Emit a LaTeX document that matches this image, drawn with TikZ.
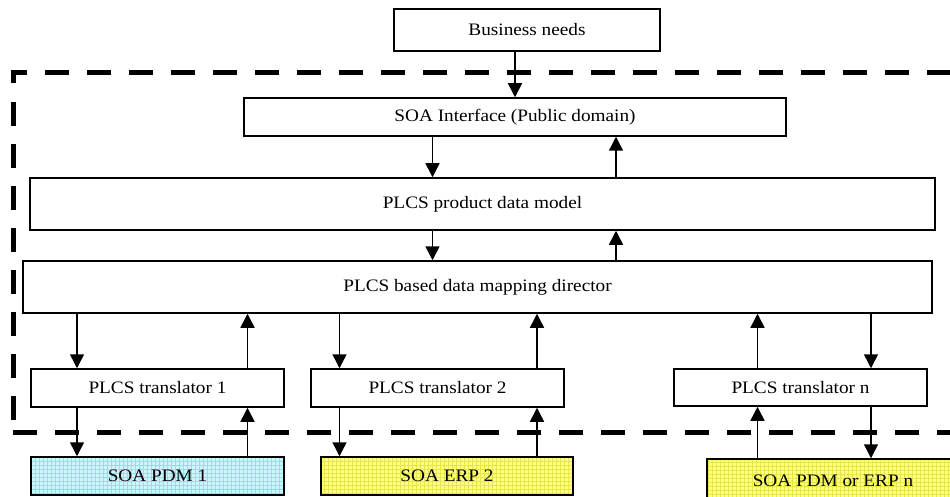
\documentclass[tikz,border=0pt]{standalone}
\usepackage{fontspec}
\setmainfont{Liberation Serif}[FakeStretch=1.1]
\usetikzlibrary{arrows.meta}
\definecolor{cyanfill}{RGB}{200,250,250}
\definecolor{cyangrid}{RGB}{120,235,240}
\definecolor{yelfill}{RGB}{255,255,130}
\definecolor{yelgrid}{RGB}{230,230,70}
\tikzset{
  box/.style={draw, line width=1.5pt, fill=white, inner sep=0pt, anchor=center,
    font=\fontsize{17.5}{20}\selectfont},
  gridfill/.style 2 args={fill=#1, path picture={
    \draw[step=4pt, color=#2, line width=0.6pt]
      (path picture bounding box.south west) grid (path picture bounding box.north east);}},
  arr/.style={-{Triangle[length=14pt,width=14pt]}, line width=1.5pt},
  frame/.style={line width=5pt, dash pattern=on 24pt off 18pt},
}
\begin{document}
\begin{tikzpicture}[x=1pt,y=-1pt]
\useasboundingbox (0,0) rectangle (950,497);
% dashed frame
\draw[frame] (13,83) -- (13,72.5) -- (970,72.5);
\draw[frame] (13,102) -- (13,426);
\draw[frame] (13,432) -- (970,432);
% boxes
\node[box, minimum width=266pt, minimum height=42pt] (biz) at (527,30) {Business needs};
\node[box, minimum width=542pt, minimum height=38pt] (soa) at (515,117) {SOA Interface (Public domain)};
\node[box, minimum width=905pt, minimum height=52pt] (model) at (482.5,204) {PLCS product data model};
\node[box, minimum width=909pt, minimum height=52pt] (dir) at (477.5,287) {PLCS based data mapping director};
\node[box, minimum width=253pt, minimum height=38pt] (t1) at (157.5,388) {PLCS translator 1};
\node[box, minimum width=253pt, minimum height=38pt] (t2) at (437.5,388) {PLCS translator 2};
\node[box, minimum width=253pt, minimum height=37pt] (tn) at (800.5,387.5) {PLCS translator n};
\node[box, gridfill={cyanfill}{cyangrid}, minimum width=253pt, minimum height=38pt] (p1) at (157.5,476) {SOA PDM 1};
\node[box, gridfill={yelfill}{yelgrid}, minimum width=252pt, minimum height=38pt] (p2) at (447,476) {SOA ERP 2};
\node[box, gridfill={yelfill}{yelgrid}, minimum width=252pt, minimum height=44pt] (pn) at (833,481) {SOA PDM or ERP n};
% x positions of connectors
\coordinate (xa) at (515,0);
\coordinate (xb) at (432.5,0);
\coordinate (xc) at (616,0);
\coordinate (xd) at (77,0);
\coordinate (xe) at (247.5,0);
\coordinate (xf) at (339.5,0);
\coordinate (xg) at (537,0);
\coordinate (xh) at (757.5,0);
\coordinate (xi) at (871,0);
% connectors
\draw[arr] (biz.south -| xa) -- (soa.north -| xa);
\draw[arr] (soa.south -| xb) -- (model.north -| xb);
\draw[arr] (model.north -| xc) -- (soa.south -| xc);
\draw[arr] (model.south -| xb) -- (dir.north -| xb);
\draw[arr] (dir.north -| xc) -- (model.south -| xc);
\draw[arr] (dir.south -| xd) -- (t1.north -| xd);
\draw[arr] (t1.north -| xe) -- (dir.south -| xe);
\draw[arr] (dir.south -| xf) -- (t2.north -| xf);
\draw[arr] (t2.north -| xg) -- (dir.south -| xg);
\draw[arr] (tn.north -| xh) -- (dir.south -| xh);
\draw[arr] (dir.south -| xi) -- (tn.north -| xi);
\draw[arr] (t1.south -| xd) -- (p1.north -| xd);
\draw[arr] (p1.north -| xe) -- (t1.south -| xe);
\draw[arr] (t2.south -| xf) -- (p2.north -| xf);
\draw[arr] (p2.north -| xg) -- (t2.south -| xg);
\draw[arr] (pn.north -| xh) -- (tn.south -| xh);
\draw[arr] (tn.south -| xi) -- (pn.north -| xi);
\end{tikzpicture}
\end{document}
